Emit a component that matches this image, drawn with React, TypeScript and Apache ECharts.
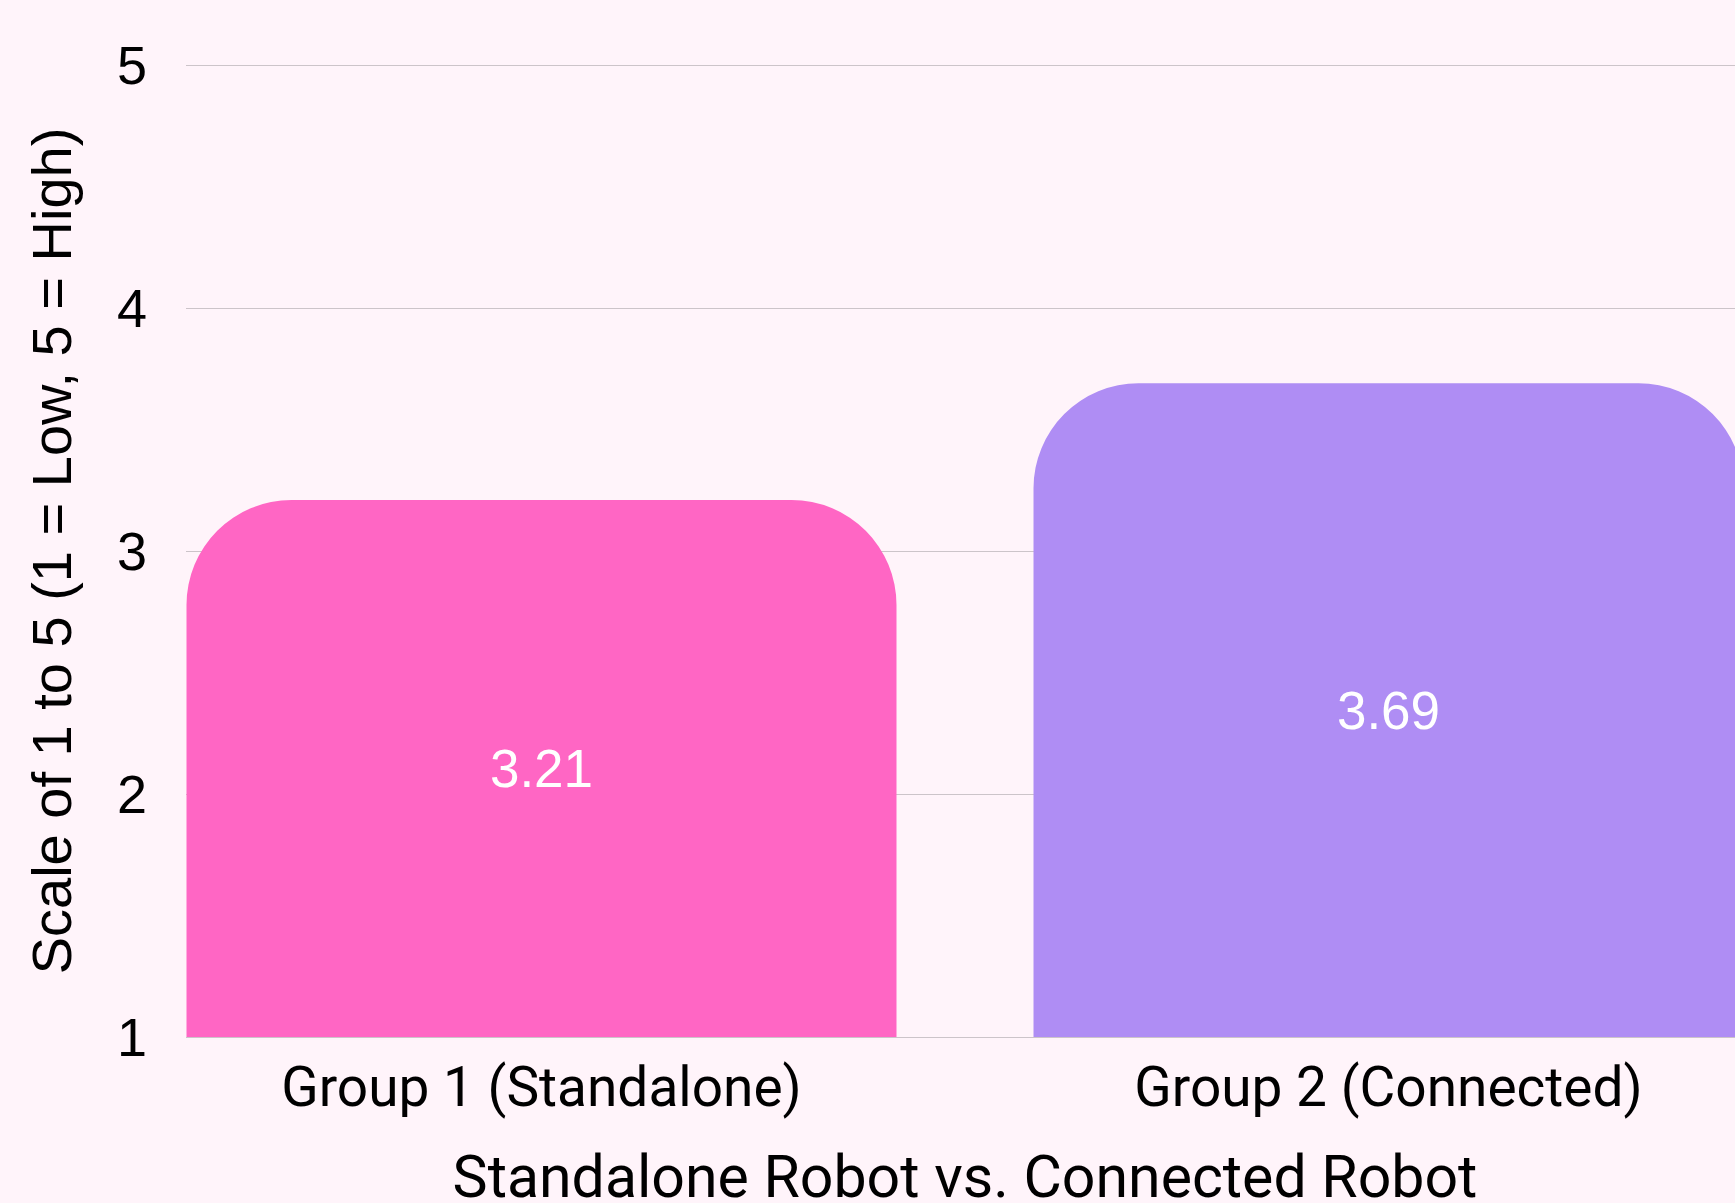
import React, { useEffect, useRef } from "react";
import * as echarts from "echarts";

const categories = ["Group 1 (Standalone)", "Group 2 (Connected)"];
const values = [3.21, 3.69];
const barColors = ["#FF66C4", "#AF8DF4"];
const yTicks = [1, 2, 3, 4, 5];
const xTitle = "Standalone Robot vs. Connected Robot";
const yTitle = "Scale of 1 to 5 (1 = Low, 5 = High)";

export default function App() {
  const ref = useRef<HTMLDivElement>(null);
  useEffect(() => {
    if (!ref.current) return;
    const chart = echarts.init(ref.current, undefined, { renderer: "svg" });
    const yMin = yTicks[0];
    const yMax = yTicks[yTicks.length - 1];
    const option = {
      animation: false,
      backgroundColor: "#FFF4FA",
      grid: [
        // bars / categories
        { left: 118, right: -77, top: 65, bottom: 166, containLabel: false, outerBoundsMode: "none" },
        // gridlines / y labels
        { left: 186, right: 0, top: 65, bottom: 166, containLabel: false, outerBoundsMode: "none" },
      ],
      xAxis: [
        {
          type: "category",
          gridIndex: 0,
          data: categories,
          boundaryGap: true,
          name: xTitle,
          nameLocation: "middle",
          nameGap: 110,
          nameTextStyle: { fontFamily: "Roboto", fontSize: 59, color: "#000" },
          axisLine: { show: false },
          axisTick: { show: false },
          splitLine: { show: false },
          axisLabel: {
            fontFamily: "Roboto",
            fontSize: 55,
            color: "#000",
            margin: 22,
            interval: 0,
          },
        },
        {
          type: "value",
          gridIndex: 1,
          min: 0,
          max: 1,
          show: false,
        },
      ],
      yAxis: [
        {
          type: "value",
          gridIndex: 0,
          min: yMin,
          max: yMax,
          interval: 1,
          show: false,
          splitLine: { show: false },
        },
        {
          type: "value",
          gridIndex: 1,
          min: yMin,
          max: yMax,
          interval: 1,
          name: yTitle,
          nameLocation: "middle",
          nameGap: 107,
          nameTextStyle: { fontFamily: "Liberation Sans", fontSize: 56, color: "#000" },
          axisLine: { show: false },
          axisTick: { show: false },
          axisLabel: { fontFamily: "Liberation Sans", fontSize: 54, color: "#000", margin: 39 },
          splitLine: { show: true, lineStyle: { color: "#CCC4C9", width: 1 } },
        },
      ],
      series: [
        {
          type: "bar",
          xAxisIndex: 0,
          yAxisIndex: 0,
          barWidth: 710,
          z: 3,
          data: values.map((v, i) => ({
            value: v,
            itemStyle: { color: barColors[i], borderRadius: [105, 105, 0, 0] },
          })),
          label: {
            show: true,
            position: "inside",
            formatter: (p: any) => Number(p.value).toFixed(2),
            fontFamily: "Liberation Sans",
            fontSize: 53,
            color: "#FFFFFF",
          },
        },
      ],
    };
    chart.setOption(option as any);
    return () => chart.dispose();
  }, []);
  return (
    <div
      ref={ref}
      style={{ width: 1735, height: 1203, position: "absolute", left: 0, top: 0 }}
    />
  );
}
